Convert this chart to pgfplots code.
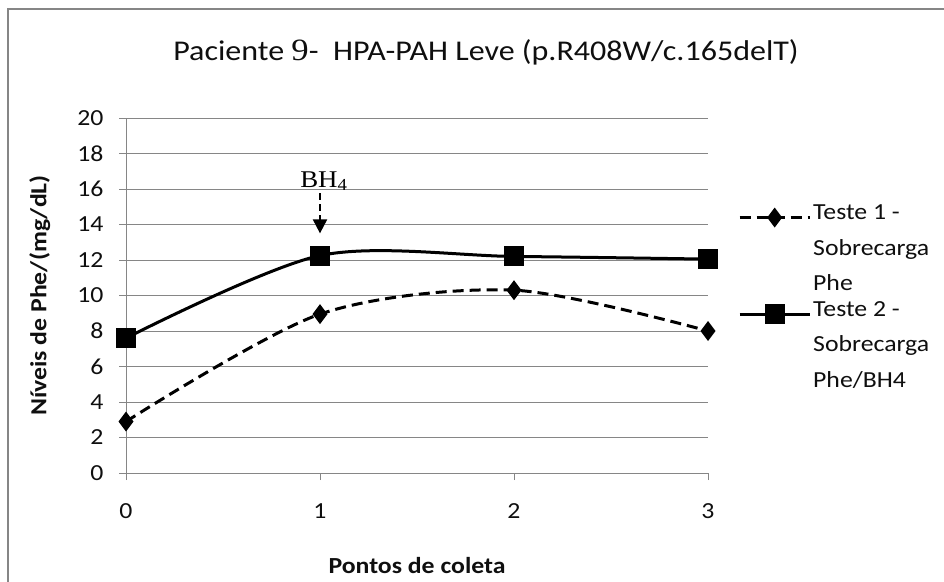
\documentclass[border=0pt]{standalone}
\usepackage{pgfplots}
\pgfplotsset{compat=1.18}
\usepackage{fontspec}
\setmainfont{Carlito}[FakeStretch=1.12]
\newfontfamily\serif{Liberation Serif}[FakeStretch=1.12]
\usetikzlibrary{arrows.meta}
\definecolor{gridc}{RGB}{134,134,134}
\definecolor{txt}{RGB}{15,15,15}
\begin{document}
\begin{tikzpicture}[x=1pt,y=1pt]
\useasboundingbox (0,0) rectangle (944,581);
\draw[gridc, line width=1.6pt] (8,-5) -- (8,572) -- (950,572);
\node[font=\fontsize{28.6}{31}\selectfont, text=txt] at (486,529) {Paciente {\serif\fontsize{31}{31}\selectfont 9}-\ \ HPA-PAH Leve (p.R408W/c.165delT)};
\begin{axis}[
  at={(126pt,108pt)}, anchor=south west,
  width=582pt, height=355pt, scale only axis,
  xmin=0, xmax=3, ymin=0, ymax=20,
  xtick={0,1,2,3}, ytick={0,2,...,20},
  axis x line*=bottom, axis y line*=left,
  axis line style={gridc, line width=0.9pt, -},
  ymajorgrids, major grid style={gridc, line width=0.9pt},
  tick align=outside, major tick length=7pt,
  tick style={gridc, line width=0.9pt},
  ticklabel style={font=\fontsize{23}{27}\selectfont, text=txt},
  /pgf/number format/assume math mode=true,
  xticklabel shift=20pt, yticklabel shift=12pt,
  xlabel={Pontos de coleta},
  ylabel={Níveis de Phe/(mg/dL)},
  label style={font=\bfseries\fontsize{23}{27}\selectfont, text=txt},
  xlabel style={at={(axis description cs:0.5,-0.262)}, anchor=center},
  ylabel style={at={(axis description cs:-0.148,0.5)}, anchor=center, rotate=0},
  legend style={at={(axis description cs:1.0515,0.7625)}, anchor=north west,
    draw=none, fill=none, inner sep=0pt, row sep=5pt,
    font=\fontsize{23}{35.5}\selectfont, text=txt,
    cells={anchor=north west, align=left}},
  legend image code/.code={\draw[mark repeat=2,mark phase=2,#1] plot coordinates {(0pt,-15pt) (35pt,-15pt) (70pt,-15pt)};},
]
\addplot[black, line width=3pt, dash pattern=on 11pt off 6pt, smooth,
  mark=diamond*, mark size=7.5pt, mark options={solid}]
  coordinates {(0,2.9) (1,8.95) (2,10.3) (3,8.0)};
\addlegendentry{Teste 1 -\\Sobrecarga\\Phe}
\addplot[black, line width=3pt, smooth,
  mark=square*, mark size=8.5pt, mark options={solid}]
  coordinates {(0,7.6) (1,12.25) (2,12.2) (3,12.05)};
\addlegendentry{Teste 2 -\\Sobrecarga\\Phe/BH4}
\node[font=\serif\fontsize{24}{24}\selectfont, anchor=base, text=black] at (axis cs:1.02,16.1) {BH\textsubscript{4}};
\draw[black, line width=2pt, dash pattern=on 7pt off 4pt, -{Triangle[width=14pt,length=14pt]}] (axis cs:1,15.75) -- (axis cs:1,13.5);
\end{axis}
\end{tikzpicture}
\end{document}
